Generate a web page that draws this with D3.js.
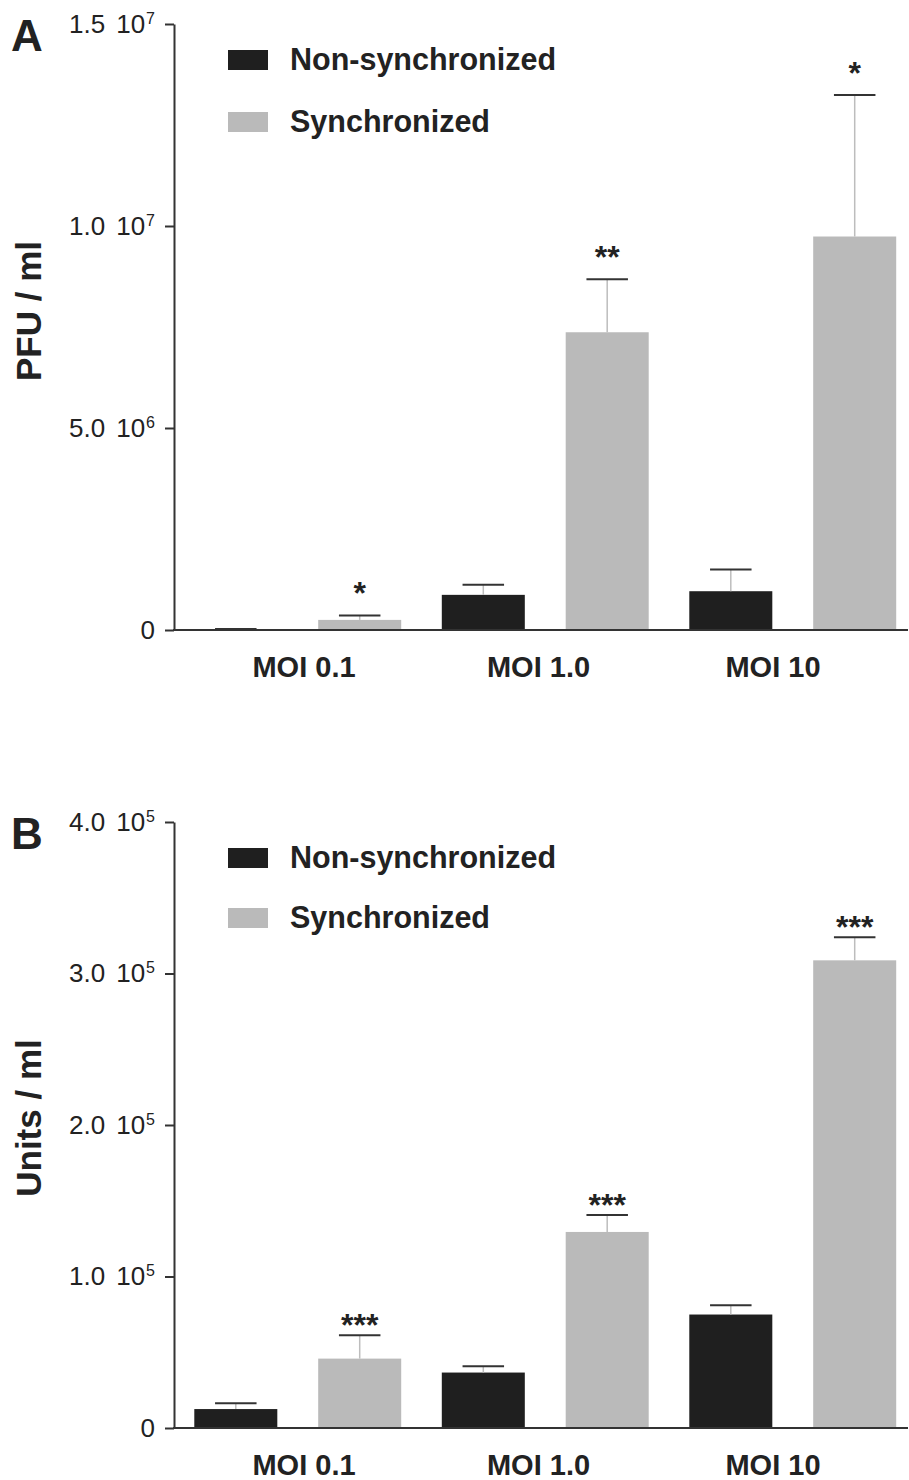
<!DOCTYPE html>
<html>
<head>
<meta charset="utf-8">
<script src="https://cdn.jsdelivr.net/npm/d3@7"></script>
<style>
  body { margin: 0; background: #fff; }
  svg text { font-family: "Liberation Sans", Arial, Helvetica, sans-serif; fill: #222; }
</style>
</head>
<body>
<div id="chart"></div>
<script>
var categories = ['MOI 0.1', 'MOI 1.0', 'MOI 10'];
var seriesNames = ['Non-synchronized', 'Synchronized'];
var seriesColors = ['#1f1f1f', '#bababa'];

// panel A: PFU / ml
var pfuNonSync = [10000, 870000, 960000];
var pfuNonSyncErr = [15000, 250000, 540000];
var pfuSync = [250000, 7370000, 9740000];
var pfuSyncErr = [110000, 1310000, 3500000];
var pfuStars = ['*', '**', '*'];
var pfuTicks = [0, 5e6, 1e7, 1.5e7];
var pfuTickMant = ['0', '5.0', '1.0', '1.5'];
var pfuTickExp = ['', '6', '7', '7'];

// panel B: Units / ml
var unitsNonSync = [12500, 36600, 74900];
var unitsNonSyncErr = [3800, 4100, 6100];
var unitsSync = [45800, 129400, 308700];
var unitsSyncErr = [15400, 11200, 15200];
var unitsStars = ['***', '***', '***'];
var unitsTicks = [0, 1e5, 2e5, 3e5, 4e5];
var unitsTickMant = ['0', '1.0', '2.0', '3.0', '4.0'];
var unitsTickExp = ['', '5', '5', '5', '5'];

var width = 909, height = 1480,
    axisX = 174, axisRight = 908;

var svg = d3.select('#chart').append('svg')
  .attr('width', width)
  .attr('height', height);

var x0 = d3.scaleBand()
  .domain(categories)
  .range([axisX, 916.5])
  .paddingInner(0.164)
  .paddingOuter(0.082);

var x1 = d3.scaleBand()
  .domain(seriesNames)
  .range([0, x0.bandwidth()])
  .paddingInner(0.33);

// category labels sit a bit off the group centres in the original
var xLabel = d3.scalePoint()
  .domain(categories)
  .range([304, 773]);

function drawPanel(cfg) {
  var g = svg.append('g');
  var y = d3.scaleLinear().domain(cfg.domain).range([cfg.bottom, cfg.top]);

  // panel letter
  g.append('text')
    .attr('x', 11).attr('y', cfg.top + 27)
    .style('font-size', '44px').style('font-weight', 'bold')
    .text(cfg.letter);

  // y title
  g.append('text')
    .attr('transform', 'translate(41,' + cfg.titleY + ') rotate(-90)')
    .attr('text-anchor', 'middle')
    .style('font-size', '35px').style('font-weight', 'bold')
    .text(cfg.title);

  // bars
  var rows = categories.map(function(c, i) {
    return [
      { cat: c, s: seriesNames[0], v: cfg.a[i], e: cfg.aErr[i], star: null },
      { cat: c, s: seriesNames[1], v: cfg.b[i], e: cfg.bErr[i], star: cfg.stars[i] }
    ];
  });
  var items = d3.merge(rows);

  var bar = g.selectAll('.bar').data(items).enter().append('g')
    .attr('class', 'bar')
    .attr('transform', function(d) { return 'translate(' + (x0(d.cat) + x1(d.s)) + ',0)'; });

  var bw = x1.bandwidth();
  bar.append('rect')
    .attr('x', 0)
    .attr('width', bw)
    .attr('y', function(d) { return y(d.v); })
    .attr('height', function(d) { return y(0) - y(d.v); })
    .style('fill', function(d) { return seriesColors[seriesNames.indexOf(d.s)]; });

  // error bars (up only)
  bar.append('line')
    .attr('x1', bw / 2).attr('x2', bw / 2)
    .attr('y1', function(d) { return y(d.v); })
    .attr('y2', function(d) { return y(d.v + d.e); })
    .style('stroke', '#bdbdbd').style('stroke-width', 1.5);
  bar.append('line')
    .attr('x1', bw / 4).attr('x2', bw * 3 / 4)
    .attr('y1', function(d) { return y(d.v + d.e); })
    .attr('y2', function(d) { return y(d.v + d.e); })
    .style('stroke', '#333').style('stroke-width', 2);

  bar.filter(function(d) { return d.star; }).append('text')
    .attr('x', bw / 2)
    .attr('y', function(d) { return y(d.v + d.e) - cfg.starGap; })
    .attr('text-anchor', 'middle')
    .style('font-size', '32px').style('font-weight', 'bold')
    .text(function(d) { return d.star; });

  // y axis
  var yAxis = d3.axisLeft(y)
    .tickValues(cfg.ticks)
    .tickSize(9)
    .tickSizeOuter(0)
    .tickPadding(10)
    .tickFormat('');
  var ga = g.append('g')
    .attr('transform', 'translate(' + axisX + ',0)')
    .call(yAxis);
  ga.select('.domain').style('stroke', '#333').style('stroke-width', 2);
  ga.selectAll('.tick line').style('stroke', '#333').style('stroke-width', 2);
  ga.selectAll('.tick text').each(function(d, i) {
    var t = d3.select(this)
      .style('font-size', '26px')
      .style('font-family', '"Liberation Sans", Arial, sans-serif')
      .attr('fill', '#222');
    t.text(null);
    t.append('tspan').text(cfg.tickMant[i]);
    if (cfg.tickExp[i]) {
      t.append('tspan').attr('dx', '11').text('10');
      t.append('tspan')
        .attr('dy', '-9')
        .attr('dx', '1')
        .style('font-size', '16px')
        .text(cfg.tickExp[i]);
    }
  });

  // x axis
  g.append('line')
    .attr('x1', axisX - 1).attr('x2', axisRight)
    .attr('y1', y(0)).attr('y2', y(0))
    .style('stroke', '#333').style('stroke-width', 2);

  g.selectAll('.cat').data(categories).enter().append('text')
    .attr('class', 'cat')
    .attr('x', function(d) { return xLabel(d); })
    .attr('y', y(0) + 47)
    .attr('text-anchor', 'middle')
    .style('font-size', '29px').style('font-weight', 'bold')
    .text(function(d) { return d; });

  // legend
  var legend = g.selectAll('.legend-key').data(seriesNames).enter().append('g')
    .attr('class', 'legend-key')
    .attr('transform', function(d, i) {
      return 'translate(228,' + (cfg.legendY + i * cfg.legendStep) + ')';
    });
  legend.append('rect')
    .attr('y', -10)
    .attr('width', 40).attr('height', 20)
    .style('fill', function(d, i) { return seriesColors[i]; });
  legend.append('text')
    .attr('x', 62).attr('y', 10)
    .style('font-size', '30.5px').style('font-weight', 'bold')
    .text(function(d) { return d; });
}

drawPanel({
  letter: 'A', title: 'PFU / ml', titleY: 311,
  top: 24, bottom: 630, domain: [0, 1.5e7],
  a: pfuNonSync, aErr: pfuNonSyncErr, b: pfuSync, bErr: pfuSyncErr, stars: pfuStars,
  ticks: pfuTicks, tickMant: pfuTickMant, tickExp: pfuTickExp,
  starGap: 11, legendY: 60, legendStep: 62
});

drawPanel({
  letter: 'B', title: 'Units / ml', titleY: 1118,
  top: 822, bottom: 1428, domain: [0, 4e5],
  a: unitsNonSync, aErr: unitsNonSyncErr, b: unitsSync, bErr: unitsSyncErr, stars: unitsStars,
  ticks: unitsTicks, tickMant: unitsTickMant, tickExp: unitsTickExp,
  starGap: -1, legendY: 858, legendStep: 60
});
</script>
</body>
</html>
